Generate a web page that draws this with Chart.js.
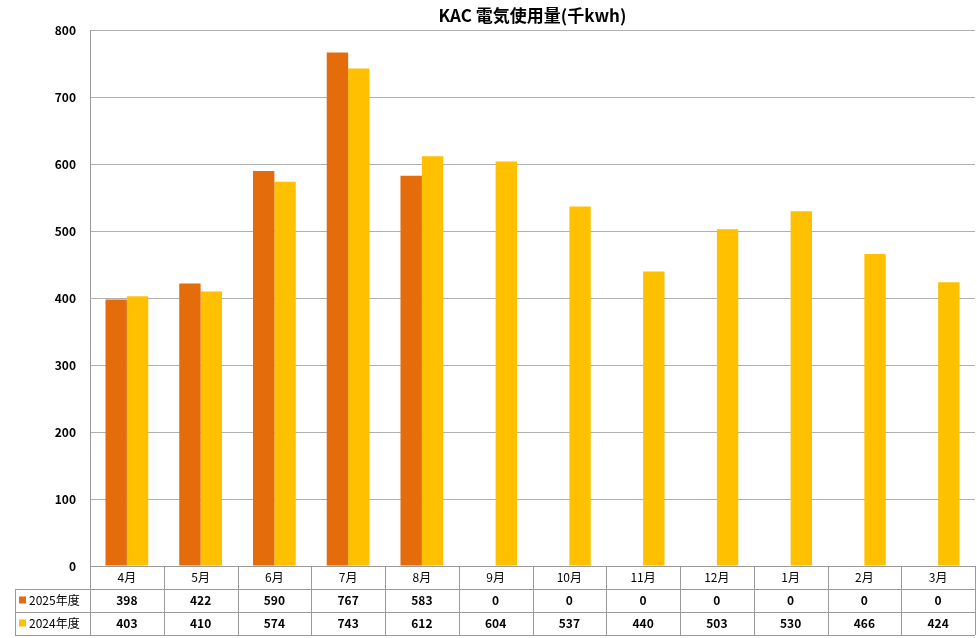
<!DOCTYPE html>
<html>
<head>
<meta charset="utf-8">
<script src="https://cdn.jsdelivr.net/npm/chart.js@4"></script>
<style>
  body { margin: 0; background: #fff; }
  #wrap { width: 977px; height: 638px; }
</style>
</head>
<body>
<div id="wrap"><canvas id="kacChart"></canvas></div>
<script>
const months = ['4月', '5月', '6月', '7月', '8月', '9月', '10月', '11月', '12月', '1月', '2月', '3月'];
const usage2025 = [398, 422, 590, 767, 583, 0, 0, 0, 0, 0, 0, 0];
const usage2024 = [403, 410, 574, 743, 612, 604, 537, 440, 503, 530, 466, 424];
const yTicks = [0, 100, 200, 300, 400, 500, 600, 700, 800];

const COLOR_2025 = '#E46C0A';
const COLOR_2024 = '#FFC000';
const FONT = '"Noto Sans CJK JP", "Noto Sans", sans-serif';

// Draw the data table under the plot, lined up with the category scale
const dataTablePlugin = {
    id: 'dataTable',
    afterDraw(chart) {
        const ctx = chart.ctx;
        const area = chart.chartArea;
        const xs = chart.scales.x;
        const rowH = 23;
        const left = 15;
        const step = (area.right - area.left) / months.length;
        const top = area.bottom;
        const rows = [
            { label: '2025年度', color: COLOR_2025, data: usage2025 },
            { label: '2024年度', color: COLOR_2024, data: usage2024 }
        ];

        ctx.save();
        ctx.strokeStyle = '#9a9a9a';
        ctx.lineWidth = 1;
        ctx.beginPath();
        // horizontal lines
        ctx.moveTo(area.left, top + 0.5); ctx.lineTo(area.right, top + 0.5);
        for (let r = 1; r <= 3; r++) {
            const y = top + r * rowH + 0.5;
            ctx.moveTo(left, y); ctx.lineTo(area.right, y);
        }
        // vertical lines
        for (let i = 0; i <= months.length; i++) {
            const x = Math.round(area.left + i * step) + 0.5;
            ctx.moveTo(x, top); ctx.lineTo(x, top + 3 * rowH);
        }
        ctx.moveTo(left + 0.5, top + rowH); ctx.lineTo(left + 0.5, top + 3 * rowH);
        ctx.stroke();

        ctx.fillStyle = '#000';
        ctx.font = '12px ' + FONT;
        ctx.textAlign = 'center';
        ctx.textBaseline = 'middle';
        months.forEach((m, i) => {
            ctx.fillText(m, xs.getPixelForValue(i), top + rowH / 2);
        });
        rows.forEach((row, r) => {
            const yMid = top + (r + 1.5) * rowH;
            ctx.fillStyle = row.color;
            ctx.fillRect(left + 4, yMid - 4, 7, 7);
            ctx.fillStyle = '#000';
            ctx.textAlign = 'left';
            ctx.font = '12px ' + FONT;
            ctx.fillText(row.label, left + 14, yMid);
            ctx.textAlign = 'center';
            ctx.font = 'bold 12px ' + FONT;
            row.data.forEach((v, i) => {
                ctx.fillText(String(v), xs.getPixelForValue(i), yMid);
            });
        });
        ctx.restore();
    }
};

new Chart(document.getElementById('kacChart'), {
    type: 'bar',
    data: {
        labels: months,
        datasets: [
            { label: '2025年度', data: usage2025, backgroundColor: COLOR_2025 },
            { label: '2024年度', data: usage2024, backgroundColor: COLOR_2024 }
        ]
    },
    options: {
        responsive: true,
        maintainAspectRatio: false,
        animation: false,
        layout: { padding: { left: 0, right: 2, top: 0, bottom: 72 } },
        datasets: { bar: { categoryPercentage: 0.58, barPercentage: 1.0 } },
        plugins: {
            legend: { display: false },
            tooltip: { enabled: false },
            title: {
                display: true,
                text: 'KAC 電気使用量(千kwh)',
                color: '#000',
                fullSize: false,
                font: { family: FONT, size: 17, weight: 'bold' },
                padding: { top: 5, bottom: 5 }
            }
        },
        scales: {
            x: { display: false },
            y: {
                min: 0,
                max: 800,
                afterBuildTicks: s => { s.ticks = yTicks.map(v => ({ value: v })); },
                afterFit: s => { s.width = 90; },
                ticks: {
                    color: '#000',
                    padding: 14,
                    font: { family: FONT, size: 12, weight: 'bold' }
                },
                grid: { color: '#b0b0b0', drawTicks: false },
                border: { color: '#9a9a9a' }
            }
        }
    },
    plugins: [dataTablePlugin]
});
</script>
</body>
</html>
